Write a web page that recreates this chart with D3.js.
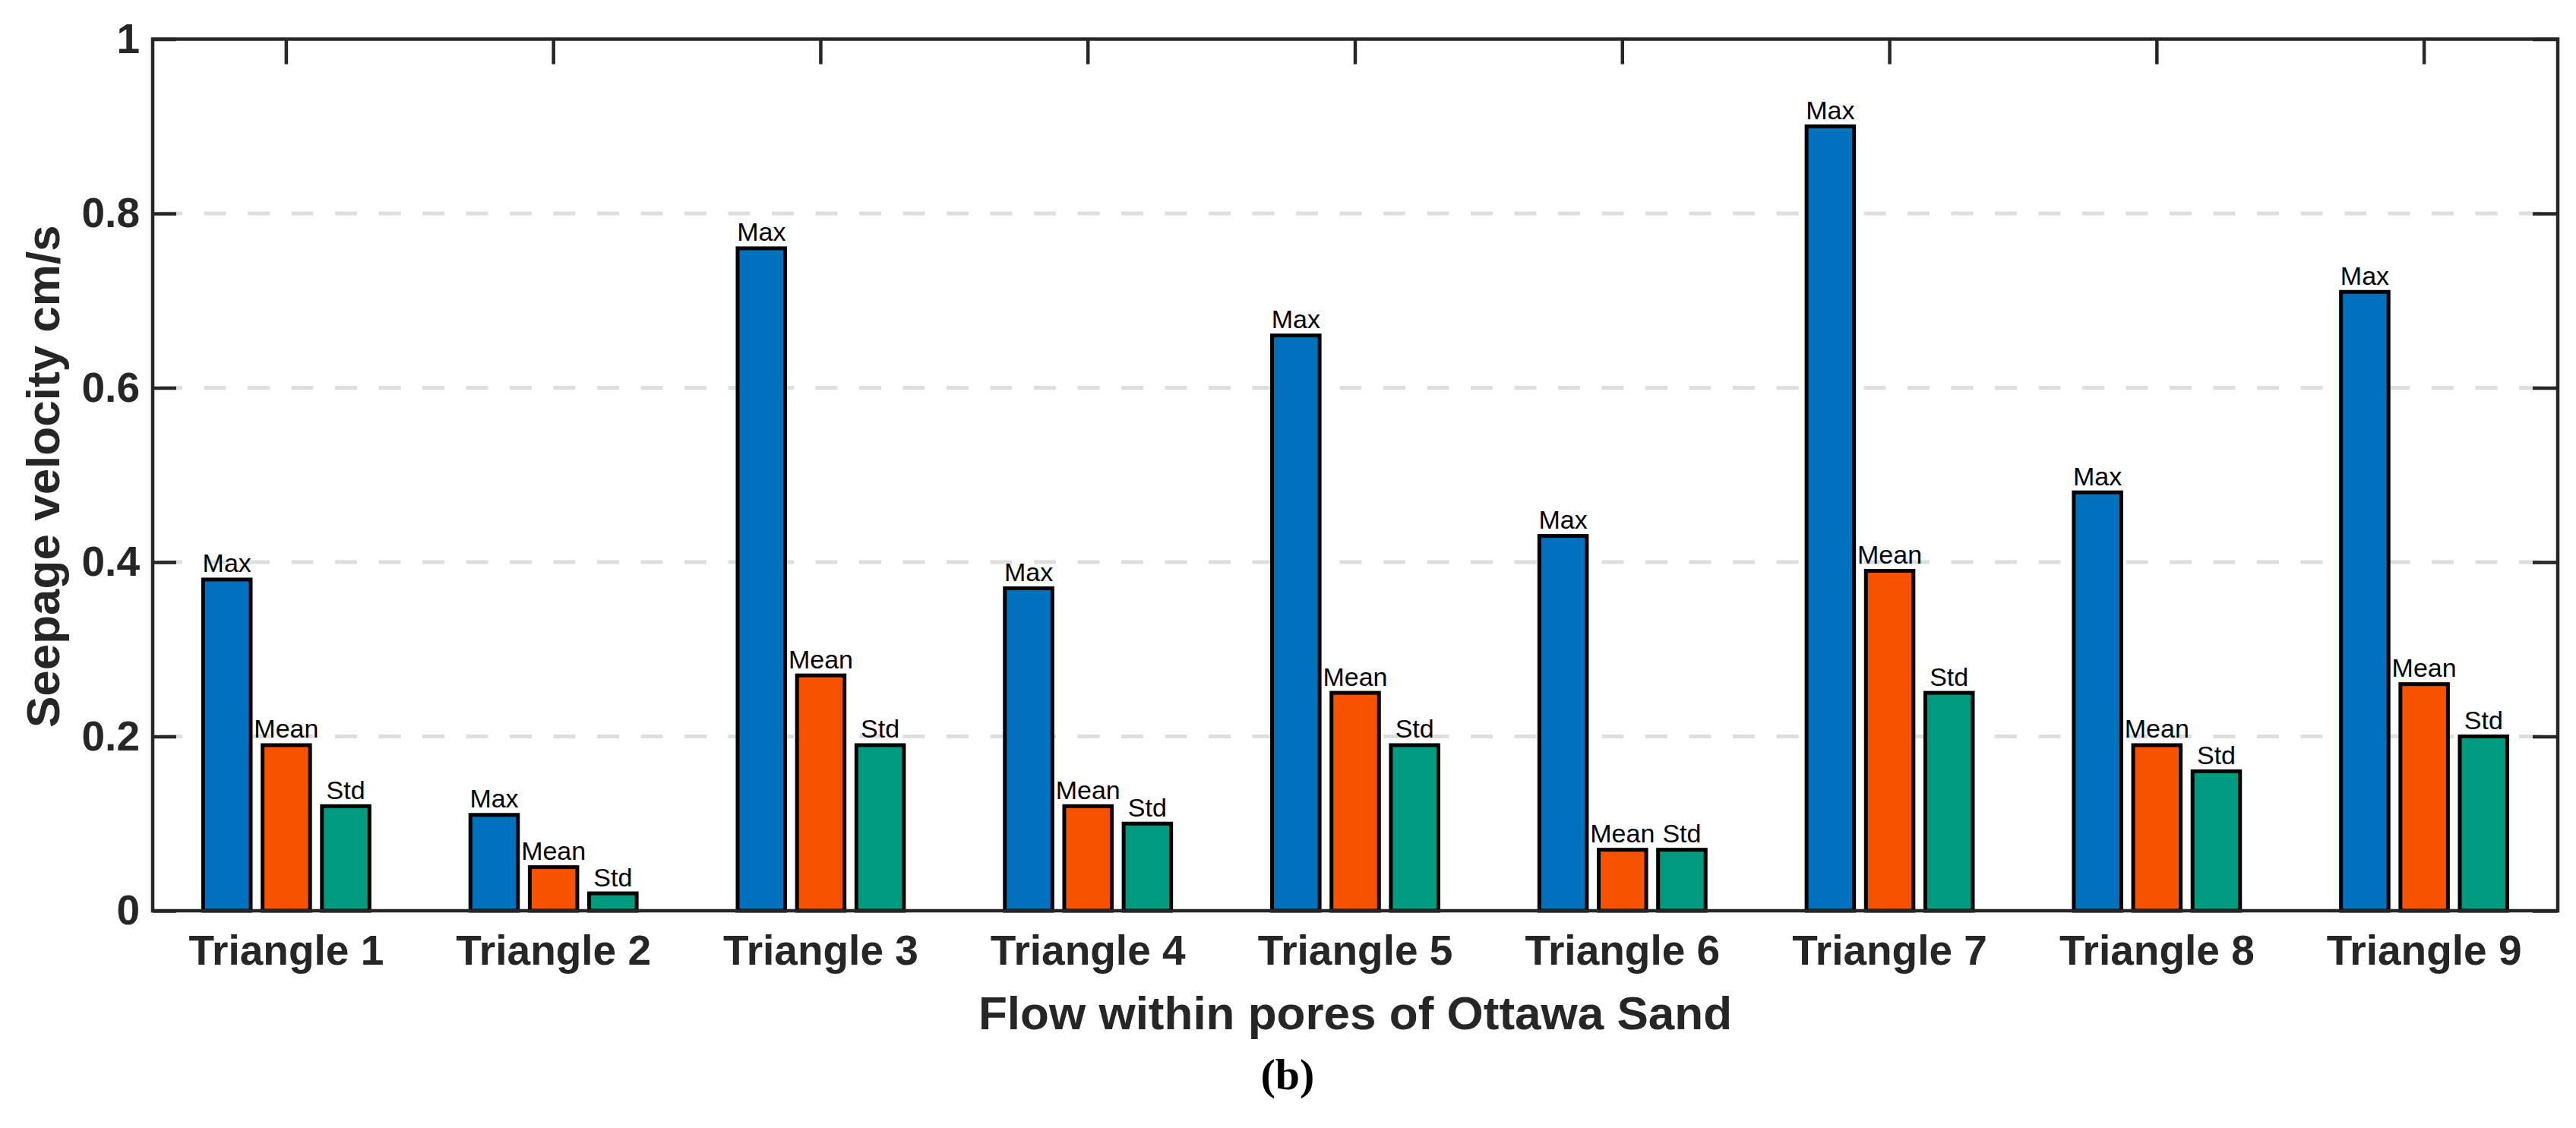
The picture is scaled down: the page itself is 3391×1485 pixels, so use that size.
<!DOCTYPE html>
<html>
<head>
<meta charset="utf-8">
<script src="https://cdn.jsdelivr.net/npm/d3@7"></script>
<style>
  html, body { margin: 0; padding: 0; background: #ffffff; }
  svg { display: block; }
</style>
</head>
<body>
<svg id="chart" width="3391" height="1485"></svg>
<script>
// ---- data ----
const categories = ["Triangle 1","Triangle 2","Triangle 3","Triangle 4","Triangle 5","Triangle 6","Triangle 7","Triangle 8","Triangle 9"];
const seriesNames = ["Max","Mean","Std"];
const maxVals  = [0.38, 0.11, 0.76, 0.37, 0.66, 0.43, 0.90, 0.48, 0.71];
const meanVals = [0.19, 0.05, 0.27, 0.12, 0.25, 0.07, 0.39, 0.19, 0.26];
const stdVals  = [0.12, 0.02, 0.19, 0.10, 0.19, 0.07, 0.25, 0.16, 0.20];
const yTicks = [0, 0.2, 0.4, 0.6, 0.8, 1];
const seriesColors = ["#0072BD", "#F75200", "#009B7E"];
const xLabel = "Flow within pores of Ottawa Sand";
const yLabel = "Seepage velocity cm/s";
const panelLabel = "(b)";

const seriesValues = [maxVals, meanVals, stdVals];

// ---- layout ----
const plot = { left: 201, right: 3367, top: 51.5, bottom: 1199 };
const svg = d3.select("#chart");
const FONT = "'Liberation Sans', Arial, Helvetica, sans-serif";
const AXIS_COLOR = "#262626";

const x = d3.scaleBand().domain(categories).range([plot.left, plot.right]).paddingInner(0).paddingOuter(0);
const bw = x.bandwidth();
const xs = d3.scaleBand().domain(seriesNames).range([-bw / 3, bw / 3]).paddingInner(0.2).paddingOuter(0.1);
const y = d3.scaleLinear().domain([0, 1]).range([plot.bottom, plot.top]);

// ---- grid ----
const gridStart = plot.left + 10;
svg.append("g").selectAll("line")
  .data(yTicks.filter(d => d > 0 && d < 1))
  .join("line")
  .attr("x1", gridStart).attr("x2", plot.right)
  .attr("y1", d => y(d)).attr("y2", d => y(d))
  .attr("stroke", "#dedede").attr("stroke-width", 5)
  .attr("stroke-dasharray", "29,28.5");

// ---- ticks (inside) ----
const gy = svg.append("g").attr("transform", `translate(${plot.left},0)`)
  .call(d3.axisLeft(y).tickValues(yTicks).tickSize(-31).tickPadding(17).tickFormat(d => String(d)));
const gyr = svg.append("g").attr("transform", `translate(${plot.right},0)`)
  .call(d3.axisRight(y).tickValues(yTicks).tickSize(-33).tickFormat(""));
const gxb = svg.append("g").attr("transform", `translate(0,${plot.bottom})`)
  .call(d3.axisBottom(x).tickSize(-32).tickPadding(32));
const gxt = svg.append("g").attr("transform", `translate(0,${plot.top})`)
  .call(d3.axisTop(x).tickSize(-33).tickFormat(""));

[gy, gyr, gxb, gxt].forEach(g => {
  g.select(".domain").remove();
  g.selectAll(".tick line").attr("stroke", AXIS_COLOR).attr("stroke-width", 4.5);
});
gy.selectAll(".tick text")
  .attr("font-family", FONT).attr("font-weight", "bold").attr("font-size", 55)
  .attr("fill", AXIS_COLOR);
gxb.selectAll(".tick text")
  .attr("font-family", FONT).attr("font-weight", "bold").attr("font-size", 55)
  .attr("fill", AXIS_COLOR);

// ---- bars ----
const groups = svg.append("g").selectAll("g")
  .data(categories)
  .join("g")
  .attr("transform", d => `translate(${x(d) + bw / 2},0)`);

groups.each(function(cat, i) {
  const g = d3.select(this);
  seriesNames.forEach((s, j) => {
    const v = seriesValues[j][i];
    g.append("rect")
      .attr("x", xs(s))
      .attr("y", y(v))
      .attr("width", xs.bandwidth())
      .attr("height", y(0) - y(v))
      .attr("fill", seriesColors[j])
      .attr("stroke", "#000000")
      .attr("stroke-width", 5);
  });
  seriesNames.forEach((s, j) => {
    const v = seriesValues[j][i];
    g.append("text")
      .attr("x", xs(s) + xs.bandwidth() / 2)
      .attr("y", y(v) - 9.5)
      .attr("text-anchor", "middle")
      .attr("font-family", FONT)
      .attr("font-size", 34)
      .attr("fill", "#000000")
      .text(s);
  });
});

// ---- axis box ----
svg.append("rect")
  .attr("x", plot.left).attr("y", plot.top)
  .attr("width", plot.right - plot.left).attr("height", plot.bottom - plot.top)
  .attr("fill", "none").attr("stroke", AXIS_COLOR).attr("stroke-width", 4.5);

// ---- axis labels ----
svg.append("text")
  .attr("x", (plot.left + plot.right) / 2)
  .attr("y", 1355)
  .attr("text-anchor", "middle")
  .attr("font-family", FONT).attr("font-weight", "bold").attr("font-size", 62)
  .attr("fill", AXIS_COLOR)
  .text(xLabel);

svg.append("text")
  .attr("transform", `translate(78,${(plot.top + plot.bottom) / 2 + 2}) rotate(-90)`)
  .attr("text-anchor", "middle")
  .attr("font-family", FONT).attr("font-weight", "bold").attr("font-size", 62)
  .attr("fill", AXIS_COLOR)
  .text(yLabel);

svg.append("text")
  .attr("x", 1695)
  .attr("y", 1434)
  .attr("text-anchor", "middle")
  .attr("font-family", "'Liberation Serif', 'Times New Roman', serif")
  .attr("font-weight", "bold").attr("font-size", 58)
  .attr("fill", "#000000")
  .text(panelLabel);
</script>
</body>
</html>
